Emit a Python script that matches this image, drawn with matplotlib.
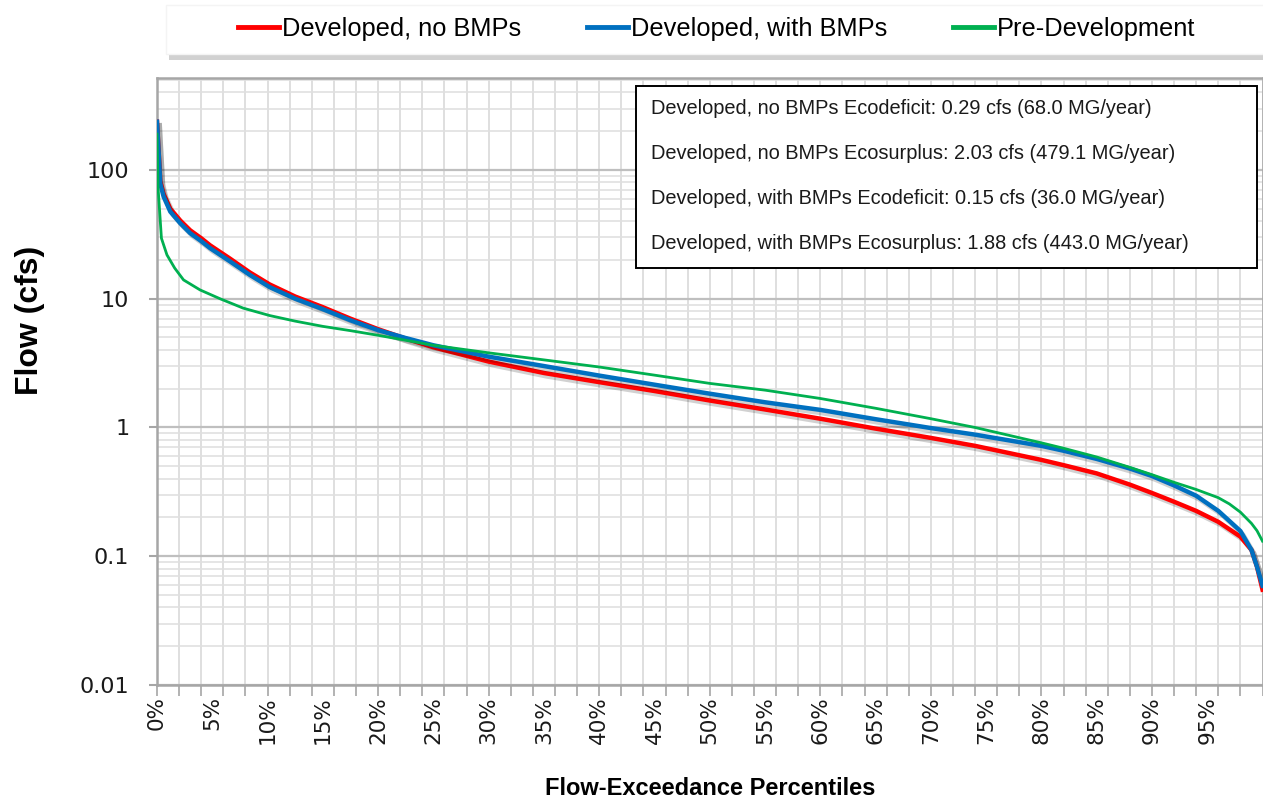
import matplotlib
matplotlib.use("Agg")
import matplotlib.pyplot as plt
import matplotlib.patheffects as pe
from matplotlib.patches import Rectangle
from matplotlib.lines import Line2D
from matplotlib.ticker import FixedLocator, MultipleLocator, LogLocator, NullFormatter, FuncFormatter

plt.rcParams['font.family'] = ['Liberation Sans', 'DejaVu Sans']

# flow-exceedance percentile (%) and flow (cfs)
pct_dev = [0, 0.3, 0.6, 1.2, 2.1, 3, 4, 4.8, 6.6, 8.4, 10.2, 12.5, 15, 17.5, 20, 22.5, 25,
           30, 35, 40, 45, 50, 55, 60, 65, 70, 74, 80, 82, 85, 88, 90, 92, 94, 96, 98,
           99, 99.5, 100]
flow_no_bmp = [237, 82, 65, 50, 40.5, 34, 29.5, 26, 20.5, 16, 12.9, 10.4, 8.6, 7.0, 5.8, 4.9,
               4.2, 3.25, 2.65, 2.25, 1.92, 1.62, 1.38, 1.17, 0.98, 0.83, 0.72, 0.56, 0.51,
               0.44, 0.36, 0.31, 0.265, 0.225, 0.185, 0.142, 0.112, 0.083, 0.055]
flow_bmp = [237, 78, 62, 47.5, 38.6, 32.3, 28, 24.7, 19.5, 15.3, 12.3, 10.0, 8.3, 6.8, 5.7,
            4.95, 4.35, 3.55, 3.0, 2.53, 2.15, 1.83, 1.57, 1.37, 1.16, 0.99, 0.88, 0.72, 0.66,
            0.57, 0.48, 0.42, 0.355, 0.295, 0.225, 0.157, 0.112, 0.083, 0.059]

pct_pre = [0, 0.1, 0.4, 0.9, 1.6, 2.4, 3.9, 5.7, 7.8, 10.2, 12.5, 15, 17.5, 20, 25, 30, 35,
           40, 45, 50, 55, 60, 65, 70, 74, 80, 82, 85, 88, 90, 92, 94, 96, 97, 98, 99, 99.5, 100]
flow_pre = [190, 72, 29.5, 21.9, 17.3, 14.0, 11.7, 10.0, 8.45, 7.4, 6.7, 6.1, 5.65, 5.2, 4.35,
            3.8, 3.35, 2.95, 2.55, 2.2, 1.95, 1.68, 1.41, 1.17, 1.0, 0.76, 0.69, 0.59, 0.49,
            0.43, 0.375, 0.33, 0.285, 0.255, 0.22, 0.18, 0.158, 0.131]

series_names = ["Developed, no BMPs", "Developed, with BMPs", "Pre-Development"]
colors = ["#FF0000", "#0070C0", "#00B050"]

stats_lines = [
    "Developed, no BMPs Ecodeficit: 0.29 cfs (68.0 MG/year)",
    "Developed, no BMPs Ecosurplus: 2.03 cfs (479.1 MG/year)",
    "Developed, with BMPs Ecodeficit: 0.15 cfs (36.0 MG/year)",
    "Developed, with BMPs Ecosurplus: 1.88 cfs (443.0 MG/year)",
]

yticks = [0.01, 0.1, 1, 10, 100]
ytick_labels = ["0.01", "0.1", "1", "10", "100"]
xlabel_pos = list(range(0, 100, 5))

W, H = 1263, 801
fig = plt.figure(figsize=(W / 100, H / 100), dpi=100)
ax = fig.add_axes([157 / W, 1 - 685 / H, (1262.5 - 157) / W, (685 - 78) / H])

shadow = [pe.SimpleLineShadow(offset=(2, -2.5), shadow_color='k', alpha=0.18), pe.Normal()]
ax.plot(pct_dev, flow_no_bmp, color=colors[0], lw=3.2, path_effects=shadow, zorder=3,
        solid_joinstyle='round')
ax.plot(pct_dev, flow_bmp, color=colors[1], lw=3.2, path_effects=shadow, zorder=3,
        solid_joinstyle='round')
ax.plot(pct_pre, flow_pre, color=colors[2], lw=2, zorder=3, solid_joinstyle='round')

ax.set_yscale('log')
ax.set_ylim(0.01, 518)
ax.set_xlim(0, 100)

ax.yaxis.set_major_locator(FixedLocator(yticks))
ax.set_yticklabels(ytick_labels)
ax.yaxis.set_minor_locator(LogLocator(base=10, subs=range(2, 10)))
ax.yaxis.set_minor_formatter(NullFormatter())

ax.xaxis.set_major_locator(FixedLocator(xlabel_pos))
ax.xaxis.set_major_formatter(FuncFormatter(lambda v, p: "%d%%" % v))
ax.xaxis.set_minor_locator(MultipleLocator(2))
ax.xaxis.remove_overlapping_locs = False

ax.tick_params(axis='y', which='major', length=6, width=1.5, color='#A6A6A6', pad=14,
               labelsize=16, labelfontfamily='DejaVu Sans', labelcolor='#1a1a1a')
ax.tick_params(axis='y', which='minor', length=0)
ax.tick_params(axis='x', which='major', length=0, pad=8, labelsize=15.5, rotation=90,
               labelfontfamily='DejaVu Sans', labelcolor='#1a1a1a')
ax.tick_params(axis='x', which='minor', length=8, width=1.2, color='#A6A6A6')

ax.set_axisbelow(True)
ax.grid(axis='y', which='major', color='#BFBFBF', lw=1.6)
ax.grid(axis='y', which='minor', color='#E0E0E0', lw=1.2)
ax.grid(axis='x', which='minor', color='#DCDCDC', lw=1.3)
for s in ax.spines.values():
    s.set_color('#A6A6A6')
    s.set_linewidth(1.8)

ax.set_ylabel("Flow (cfs)", fontsize=23, fontweight='bold')
ax.yaxis.set_label_coords(-0.101, 0.60)
ax.set_xlabel("Flow-Exceedance Percentiles", fontsize=17, fontweight='bold')
ax.xaxis.set_label_coords(0.5, -0.152)

# stats box
bx0, by0 = (636 - 157) / 1105.5, (685 - 268) / 607
bx1, by1 = (1257 - 157) / 1105.5, (685 - 86) / 607
ax.add_patch(Rectangle((bx0, by0), bx1 - bx0, by1 - by0, transform=ax.transAxes,
                       facecolor='white', edgecolor='black', lw=1.4, zorder=5))
for i, line in enumerate(stats_lines):
    ax.text((651 - 157) / 1105.5, (685 - 108 - 45.3 * i) / 607, line, transform=ax.transAxes,
            fontsize=14.4, va='center', ha='left', color='#1a1a1a', zorder=6)

# legend strip at the top
frame = Rectangle((166 / W, 1 - 54 / H), 1.0, 49 / H, transform=fig.transFigure,
                  facecolor='white', edgecolor='#F4F4F4', lw=1,
                  path_effects=[pe.withSimplePatchShadow(offset=(2, -4), shadow_rgbFace='k', alpha=0.18)])
fig.patches.append(frame)
handles = [Line2D([], [], color=c, lw=3.5) for c in colors]
fig.legend(handles, series_names, loc='center', bbox_to_anchor=(717 / W, 1 - 29 / H), ncol=3,
           frameon=False, fontsize=18.3, handlelength=1.6, handletextpad=0.12, columnspacing=2.6)

fig.savefig("out.png", dpi=100)
